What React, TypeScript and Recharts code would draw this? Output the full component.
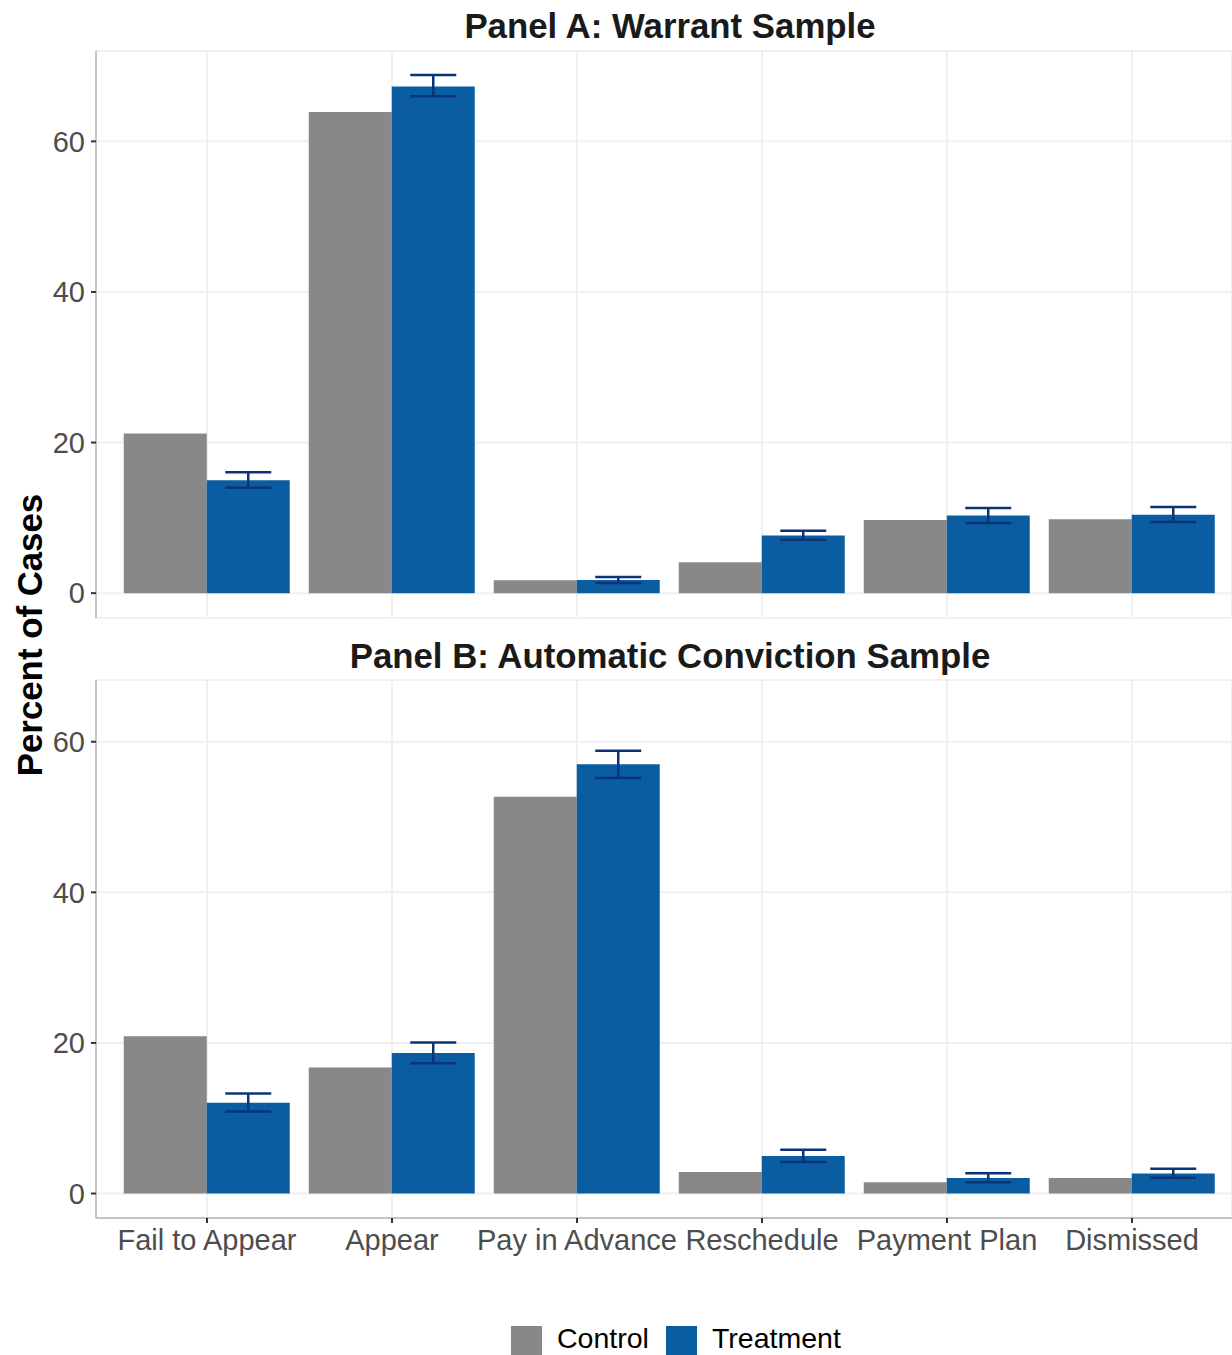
import React from 'react';
import { BarChart, Bar, XAxis, YAxis, CartesianGrid, ErrorBar } from 'recharts';

const categories = ['Fail to Appear', 'Appear', 'Pay in Advance', 'Reschedule', 'Payment Plan', 'Dismissed'];
const seriesNames = ['Control', 'Treatment'];
const yTicks = [0, 20, 40, 60];

const warrantControl = [21.2, 63.9, 1.7, 4.1, 9.7, 9.8];
const warrantTreatment = [15.0, 67.3, 1.75, 7.65, 10.3, 10.4];
const warrantLow = [14.0, 66.0, 1.35, 7.1, 9.3, 9.45];
const warrantHigh = [16.05, 68.8, 2.15, 8.3, 11.3, 11.45];

const autoControl = [20.9, 16.75, 52.7, 2.85, 1.5, 2.05];
const autoTreatment = [12.05, 18.65, 57.0, 5.0, 2.05, 2.65];
const autoLow = [10.9, 17.3, 55.2, 4.2, 1.5, 2.1];
const autoHigh = [13.3, 20.05, 58.8, 5.8, 2.7, 3.3];

const panelTitles = ['Panel A: Warrant Sample', 'Panel B: Automatic Conviction Sample'];
const yLabel = 'Percent of Cases';

const CONTROL = '#888888';
const TREAT = '#0b5da2';
const ERR = '#0b3478';
const FONT = '"Liberation Sans", Arial, Helvetica, sans-serif';

function build(ctrl: number[], trt: number[], lo: number[], hi: number[]) {
  return categories.map((c, i) => ({
    cat: c,
    Control: ctrl[i],
    Treatment: trt[i],
    err: [trt[i] - lo[i], hi[i] - trt[i]],
  }));
}

const dataA = build(warrantControl, warrantTreatment, warrantLow, warrantHigh);
const dataB = build(autoControl, autoTreatment, autoLow, autoHigh);

const EmptyTick = () => <g />;

function Panel({ data, domain, height, marginTop, marginBottom, showX }: any) {
  return (
    <BarChart
      width={1232}
      height={height}
      data={data}
      margin={{ top: marginTop, right: 0, bottom: marginBottom, left: 0 }}
      barCategoryGap="5%"
      barGap={0}
    >
      <CartesianGrid stroke="#f0f0f0" strokeWidth={2} />
      <XAxis
        dataKey="cat"
        padding={{ left: 18.5, right: 7.5 }}
        axisLine={{ stroke: '#c4c4c4', strokeWidth: 2 }}
        tickLine={showX ? { stroke: '#333333', strokeWidth: 2 } : false}
        tick={showX ? { fill: '#4d4d4d', fontSize: 29, fontFamily: FONT } : <EmptyTick />}
        tickSize={5}
        tickMargin={6}
        height={showX ? 50 : 0}
        interval={0}
      />
      <YAxis
        width={96}
        domain={domain}
        allowDataOverflow
        ticks={yTicks}
        axisLine={{ stroke: '#c4c4c4', strokeWidth: 2 }}
        tickLine={{ stroke: '#333333', strokeWidth: 2 }}
        tick={{ fill: '#4d4d4d', fontSize: 29, fontFamily: FONT }}
        tickSize={5}
        tickMargin={6}
      />
      <Bar dataKey="Control" fill={CONTROL} isAnimationActive={false} />
      <Bar dataKey="Treatment" fill={TREAT} isAnimationActive={false}>
        <ErrorBar dataKey="err" width={23} stroke={ERR} strokeWidth={2.5} direction="y" isAnimationActive={false} />
      </Bar>
    </BarChart>
  );
}

export default function App() {
  return (
    <div style={{ position: 'absolute', left: 0, top: 0, width: 1232, height: 1355, background: '#fff', fontFamily: FONT }}>
      <div style={{ position: 'absolute', left: 0, top: 0 }}>
        <Panel data={dataA} domain={[-3.3, 72.0]} height={620} marginTop={51} marginBottom={2} showX={false} />
      </div>
      <div style={{ position: 'absolute', left: 0, top: 620 }}>
        <Panel data={dataB} domain={[-3.25, 68.2]} height={660} marginTop={60} marginBottom={12} showX={true} />
      </div>
      <svg width={1232} height={1355} style={{ position: 'absolute', left: 0, top: 0, pointerEvents: 'none' }}>
        <text x={670} y={38} textAnchor="middle" fontFamily={FONT} fontWeight="bold" fontSize={34.8} fill="#1a1a1a">{panelTitles[0]}</text>
        <text x={670} y={668} textAnchor="middle" fontFamily={FONT} fontWeight="bold" fontSize={34.8} fill="#1a1a1a">{panelTitles[1]}</text>
        <text x={42} y={635} textAnchor="middle" fontFamily={FONT} fontWeight="bold" fontSize={34.8} fill="#000" transform="rotate(-90, 42, 635)">{yLabel}</text>
        <rect x={511} y={1326} width={31} height={31} fill={CONTROL} />
        <text x={557} y={1348} fontFamily={FONT} fontSize={28.5} fill="#000">{seriesNames[0]}</text>
        <rect x={666} y={1326} width={31} height={31} fill={TREAT} />
        <text x={712} y={1348} fontFamily={FONT} fontSize={28.5} fill="#000">{seriesNames[1]}</text>
      </svg>
    </div>
  );
}
